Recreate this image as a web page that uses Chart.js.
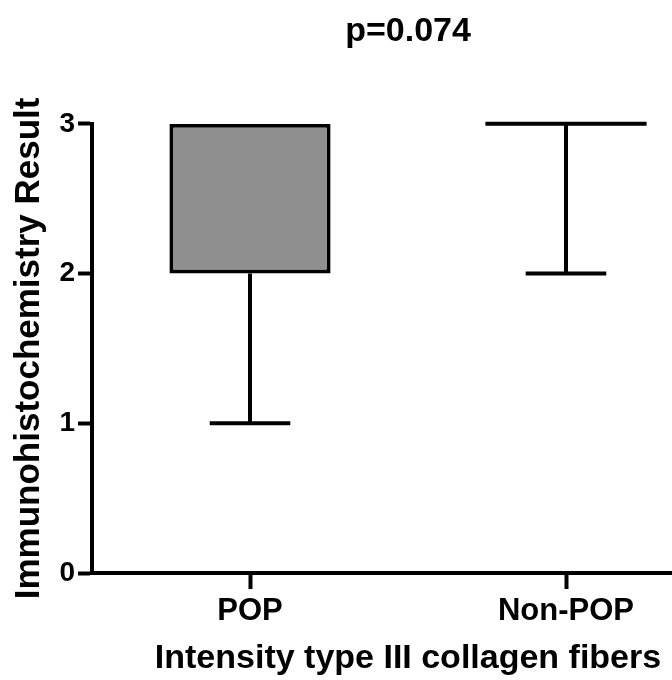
<!DOCTYPE html>
<html>
<head>
<meta charset="utf-8">
<title>Intensity type III collagen fibers</title>
<script src="https://cdn.jsdelivr.net/npm/chart.js@4/dist/chart.umd.min.js"></script>
<style>
  html, body { margin: 0; padding: 0; background: #fff; overflow: hidden; }
  #wrap { width: 816px; height: 680px; }
</style>
</head>
<body>
<div id="wrap"><canvas id="grafico" width="816" height="680"></canvas></div>
<script>
// valores (mediana y cuartiles por grupo)
const categorias = ["POP", "Non-POP"];
const bigoteMin = [1, 2];
const cuartil1 = [2, 3];
const mediana = [2, 3];
const cuartil3 = [3, 3];
const bigoteMax = [3, 3];
const ticksY = [0, 1, 2, 3];

const FUENTE = "'Liberation Sans', Arial, sans-serif";
const NEGRO = "#000";
const GRIS = "#8f8f8f";
const GROSOR = 4;

// bigotes, topes y mediana dibujados con la escala y del propio grafico
const pluginBigotes = {
  id: "bigotes",
  afterDatasetsDraw(chart) {
    const ctx = chart.ctx;
    const escalaY = chart.scales.y;
    const meta = chart.getDatasetMeta(0);

    ctx.save();
    ctx.strokeStyle = NEGRO;
    ctx.lineWidth = GROSOR;
    ctx.lineCap = "butt";

    meta.data.forEach((barra, i) => {
      const x = barra.x;
      const mitad = barra.width / 2;
      const tope = mitad / 2;
      const yMin = escalaY.getPixelForValue(bigoteMin[i]);
      const yQ1 = escalaY.getPixelForValue(cuartil1[i]);
      const yMed = escalaY.getPixelForValue(mediana[i]);
      const yQ3 = escalaY.getPixelForValue(cuartil3[i]);
      const yMax = escalaY.getPixelForValue(bigoteMax[i]);
      const cajaPlana = cuartil1[i] === cuartil3[i];

      ctx.beginPath();
      // bigote inferior
      ctx.moveTo(x, yQ1);
      ctx.lineTo(x, yMin);
      ctx.moveTo(x - tope, yMin);
      ctx.lineTo(x + tope, yMin);
      // bigote superior
      if (yMax < yQ3) {
        ctx.moveTo(x, yQ3);
        ctx.lineTo(x, yMax);
        ctx.moveTo(x - tope, yMax);
        ctx.lineTo(x + tope, yMax);
      }
      // mediana (si coincide con el borde de la caja ya esta dibujada)
      if (cajaPlana || (mediana[i] !== cuartil1[i] && mediana[i] !== cuartil3[i])) {
        ctx.moveTo(x - mitad, yMed);
        ctx.lineTo(x + mitad, yMed);
      }
      ctx.stroke();
    });

    ctx.restore();
  }
};

const cajas = categorias.map((_, i) => [cuartil1[i], cuartil3[i]]);

new Chart(document.getElementById("grafico"), {
  type: "bar",
  data: {
    labels: categorias,
    datasets: [
      {
        label: "Intensity",
        data: cajas,
        backgroundColor: GRIS,
        borderColor: NEGRO,
        borderWidth: GROSOR,
        borderSkipped: false,
        categoryPercentage: 1,
        barPercentage: 0.51
      }
    ]
  },
  options: {
    responsive: false,
    animation: false,
    layout: {
      padding: { left: 0, right: 92, top: 0, bottom: 0 }
    },
    plugins: {
      legend: { display: false },
      tooltip: { enabled: false },
      title: {
        display: true,
        fullSize: false,
        text: "p=0.074",
        color: NEGRO,
        font: { family: FUENTE, size: 34, weight: "bold" },
        padding: { top: 11, bottom: 72 }
      }
    },
    scales: {
      x: {
        type: "category",
        offset: true,
        afterFit(scale) {
          scale.height = 107;
        },
        grid: {
          display: true,
          offset: false,
          drawOnChartArea: false,
          drawTicks: true,
          tickLength: 16,
          tickWidth: GROSOR,
          tickColor: NEGRO
        },
        border: { display: true, color: NEGRO, width: GROSOR },
        ticks: {
          color: NEGRO,
          padding: 4,
          font: { family: FUENTE, size: 31, weight: "bold" }
        },
        title: {
          display: true,
          text: "Intensity type III collagen fibers",
          color: NEGRO,
          font: { family: FUENTE, size: 34, weight: "bold" },
          padding: { top: 0, bottom: 1 }
        }
      },
      y: {
        min: ticksY[0],
        max: ticksY[ticksY.length - 1],
        afterFit(scale) {
          scale.width = 92;
        },
        afterBuildTicks(scale) {
          scale.ticks = ticksY.map((v) => ({ value: v }));
        },
        grid: {
          display: true,
          drawOnChartArea: false,
          drawTicks: true,
          tickLength: 14,
          tickWidth: GROSOR,
          tickColor: NEGRO
        },
        border: { display: true, color: NEGRO, width: GROSOR },
        ticks: {
          color: NEGRO,
          padding: 3,
          font: { family: FUENTE, size: 28, weight: "bold" }
        },
        title: {
          display: true,
          text: "Immunohistochemistry Result",
          color: NEGRO,
          font: { family: FUENTE, size: 35, weight: "bold" },
          padding: { top: 8, bottom: 0 }
        }
      }
    }
  },
  plugins: [pluginBigotes]
});
</script>
</body>
</html>
